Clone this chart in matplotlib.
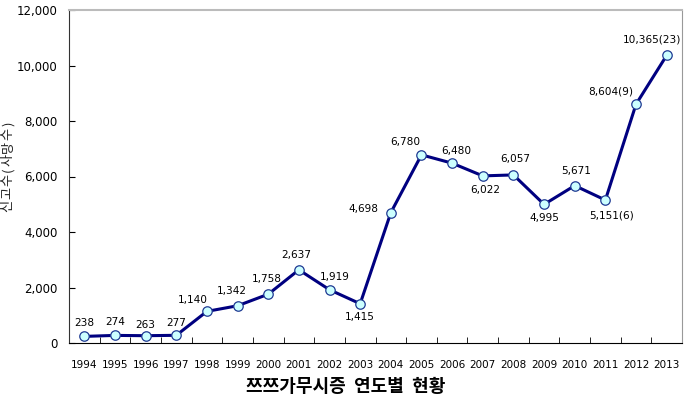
import matplotlib
matplotlib.use("Agg")
import matplotlib.pyplot as plt
from matplotlib.ticker import FuncFormatter, FixedLocator

plt.rcParams['font.family'] = ['Noto Sans CJK KR', 'DejaVu Sans']

years = ['1994', '1995', '1996', '1997', '1998', '1999', '2000', '2001', '2002', '2003',
         '2004', '2005', '2006', '2007', '2008', '2009', '2010', '2011', '2012', '2013']
cases = [238, 274, 263, 277, 1140, 1342, 1758, 2637, 1919, 1415,
         4698, 6780, 6480, 6022, 6057, 4995, 5671, 5151, 8604, 10365]
point_labels = ['238', '274', '263', '277', '1,140', '1,342', '1,758', '2,637', '1,919', '1,415',
                '4,698', '6,780', '6,480', '6,022', '6,057', '4,995', '5,671', '5,151(6)',
                '8,604(9)', '10,365(23)']
# label offsets in points (dx, dy)
offsets = [(0, 9.6), (0, 9.6), (0, 7.4), (0, 8.6), (-10, 8.4), (-4.3, 10.8), (-1, 10.8),
           (-2, 10.6), (3.6, 9.1), (0, -9.9),
           (-20, 2.4), (-11.3, 9.6), (3.3, 9.1), (1.7, -10.3), (1.5, 11.3), (0, -9.6),
           (1.2, 10.8), (4.8, -11.3), (-18, 9.1), (-10.8, 11.3)]

fig = plt.figure(figsize=(6.91, 4.01), dpi=100)
ax = fig.add_axes([69/691, 1-343/401, (682-69)/691, (343-10)/401])

x = list(range(len(years)))
ax.plot(x, cases, color='#000080', lw=2.2, marker='o', markersize=6.8,
        markerfacecolor='#CCFFFF', markeredgecolor='#1F3A93', markeredgewidth=0.9, zorder=3)

for xi, v, lab, (dx, dy) in zip(x, cases, point_labels, offsets):
    ax.annotate(lab, (xi, v), xytext=(dx, dy), textcoords='offset points',
                ha='center', va='center', fontsize=7.6, family='DejaVu Sans', color='black')

ax.set_xlim(-0.5, len(years) - 0.5)
ax.set_ylim(0, 12000)
ax.set_yticks(range(0, 12001, 2000))
ax.yaxis.set_major_formatter(FuncFormatter(lambda v, p: f'{int(v):,}'))
ax.set_xticks(x)
ax.set_xticklabels(years)
ax.xaxis.set_minor_locator(FixedLocator([i + 0.5 for i in range(-1, len(years))]))
ax.tick_params(axis='x', which='major', length=0, pad=12, labelsize=7.5)
ax.tick_params(axis='x', which='minor', length=4, direction='in', color='black')
ax.tick_params(axis='y', which='major', length=4, direction='in', labelsize=8.5, pad=8)
for lbl in ax.get_xticklabels() + ax.get_yticklabels():
    lbl.set_family('DejaVu Sans')

ax.spines['top'].set_color('#BBBBBB')
ax.spines['top'].set_linewidth(1.5)
ax.spines['right'].set_color('#999999')
ax.spines['right'].set_linewidth(0.8)
ax.spines['left'].set_color('#333333')
ax.spines['bottom'].set_color('black')

# y-axis label, characters spread along the axis
ylabel_chars = ['신', '고', '수', '(', '사', '망', '수', ')']
char_h = [13, 13, 13, 7, 13, 13, 13, 7]
total = sum(char_h)
ypos = 166 + total / 2
for ch, h in zip(ylabel_chars, char_h):
    yc = ypos - h / 2
    fig.text(8/691, 1 - yc/401, ch, rotation=90, ha='center', va='center', fontsize=9.5,
             color='#222222')
    ypos -= h

fig.text(346/691, 1-386/401, '쯔쯔가무시증  연도별  현황', ha='center', va='center',
         fontsize=13, fontweight='bold')

fig.savefig('out.png', dpi=100)
